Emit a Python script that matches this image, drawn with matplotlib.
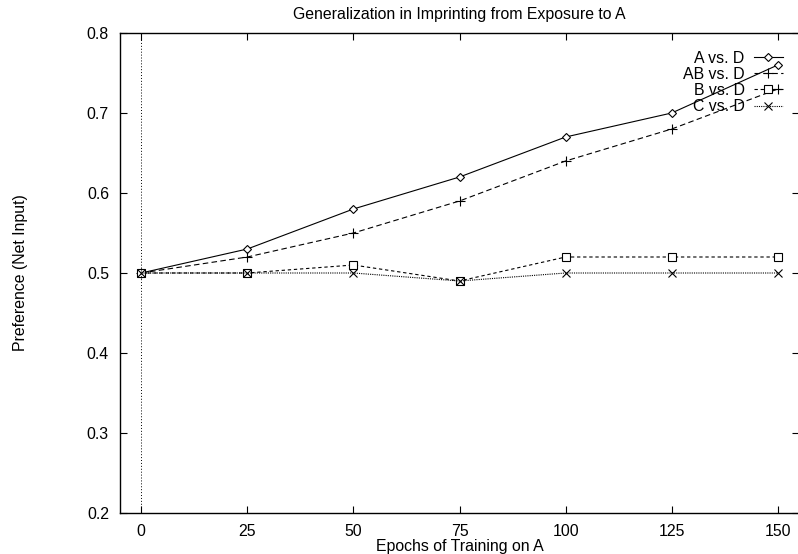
import matplotlib
matplotlib.use("Agg")
import matplotlib.pyplot as plt

plt.rcParams['font.family'] = ['Liberation Sans', 'DejaVu Sans']

# data
epochs = [0, 25, 50, 75, 100, 125, 150]
a_vs_d = [0.50, 0.53, 0.58, 0.62, 0.67, 0.70, 0.76]
ab_vs_d = [0.50, 0.52, 0.55, 0.59, 0.64, 0.68, 0.73]
b_vs_d = [0.50, 0.50, 0.51, 0.49, 0.52, 0.52, 0.52]
c_vs_d = [0.50, 0.50, 0.50, 0.49, 0.50, 0.50, 0.50]
x_ticks = [0, 25, 50, 75, 100, 125, 150]
y_ticks = [0.2, 0.3, 0.4, 0.5, 0.6, 0.7, 0.8]

fs = 11.4

fig = plt.figure(figsize=(7.98, 5.54), dpi=100)
ax = fig.add_axes([120 / 798, 1 - 513 / 554, 679 / 798, 480 / 554])

lw = 0.8
ax.plot(epochs, a_vs_d, color='black', lw=lw, ls='-', marker='D', markersize=4.5,
        markerfacecolor='white', markeredgewidth=0.8, label='A vs. D')
ax.plot(epochs, ab_vs_d, color='black', lw=lw, ls=(0, (5, 3)), marker='+', markersize=7,
        markeredgewidth=0.8, label='AB vs. D')
ax.plot(epochs, b_vs_d, color='black', lw=lw, ls=(0, (3, 2.5)), marker='s', markersize=6,
        markerfacecolor='white', markeredgewidth=0.8, label='B vs. D')
ax.plot(epochs, c_vs_d, color='black', lw=lw, ls=(0, (1, 1)), marker='x', markersize=6,
        markeredgewidth=0.8, label='C vs. D')

ax.axvline(0, color='black', lw=0.7, ls=(0, (1, 2)))

ax.set_xlim(-5, 155)
ax.set_ylim(0.2, 0.8)
ax.set_xticks(x_ticks)
ax.set_yticks(y_ticks)
ax.set_yticklabels([f'{v:.1f}' for v in y_ticks])
ax.tick_params(direction='in', length=5, width=0.8, top=True, right=True,
               labelsize=fs, pad=8)
for s in ax.spines.values():
    s.set_linewidth(1.0)

ax.set_title('Generalization in Imprinting from Exposure to A', fontsize=fs, pad=10)
ax.set_xlabel('Epochs of Training on A', fontsize=fs)
ax.xaxis.set_label_coords(0.5, -0.055)
ax.set_ylabel('Preference (Net Input)', fontsize=fs)
ax.yaxis.set_label_coords(-0.135, 0.5)

ax.legend(loc='upper right', bbox_to_anchor=(0.976, 0.963), frameon=False,
          markerfirst=False, fontsize=fs, handlelength=1.8, handletextpad=0.6,
          labelspacing=0.07, borderpad=0, borderaxespad=0)

fig.savefig('out.png', dpi=100)
